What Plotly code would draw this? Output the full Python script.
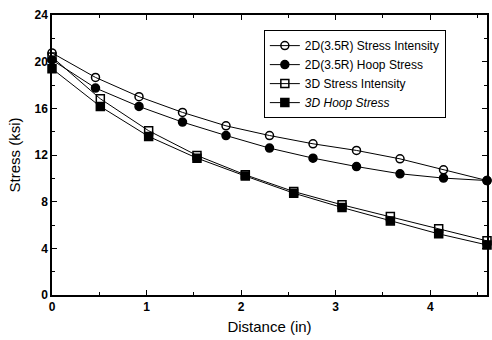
import plotly.graph_objects as go

x_circ = [0, 0.46, 0.92, 1.38, 1.84, 2.30, 2.76, 3.22, 3.68, 4.14, 4.6]
si_2d = [20.75, 18.65, 17.0, 15.65, 14.5, 13.67, 12.96, 12.39, 11.67, 10.73, 9.81]
hoop_2d = [20.15, 17.74, 16.16, 14.82, 13.67, 12.59, 11.73, 11.01, 10.39, 10.02, 9.81]

x_sq = [0, 0.511, 1.022, 1.533, 2.044, 2.556, 3.067, 3.578, 4.089, 4.6]
si_3d = [20.4, 16.82, 14.08, 11.96, 10.3, 8.87, 7.73, 6.72, 5.67, 4.64]
hoop_3d = [19.4, 16.16, 13.59, 11.73, 10.2, 8.73, 7.5, 6.35, 5.24, 4.29]

names = ["2D(3.5R) Stress Intensity", "2D(3.5R) Hoop Stress",
         "3D Stress Intensity", "<i>3D Hoop Stress</i>"]

FONT = "Liberation Sans, Arial"

fig = go.Figure()
specs = [
    (x_circ, si_2d, "circle-open", names[0]),
    (x_circ, hoop_2d, "circle", names[1]),
    (x_sq, si_3d, "square-open", names[2]),
    (x_sq, hoop_3d, "square", names[3]),
]
for xs, ys, sym, nm in specs:
    fig.add_trace(go.Scatter(
        x=xs, y=ys, mode="lines+markers", name=nm, cliponaxis=False,
        line=dict(color="black", width=1),
        marker=dict(symbol=sym, size=8, color="black",
                    line=dict(color="black", width=1.5)),
    ))

axis_common = dict(
    showline=True, linecolor="black", linewidth=1.5, mirror="allticks",
    ticks="inside", ticklen=5, tickcolor="black", tickwidth=1,
    showgrid=False, zeroline=False,
    tickfont=dict(family=FONT, size=12, color="black", weight="bold"),
)

fig.update_xaxes(range=[0, 4.6], dtick=1, tick0=0,
                 minor=dict(ticks="inside", ticklen=3, dtick=0.5, tickcolor="black"),
                 title=dict(text="Distance (in)", standoff=8,
                            font=dict(family=FONT, size=15, color="black")),
                 **axis_common)
fig.update_yaxes(range=[0, 24], dtick=4, tick0=0,
                 minor=dict(ticks="inside", ticklen=3, dtick=2, tickcolor="black"),
                 title=dict(text="Stress (ksi)", standoff=10,
                            font=dict(family=FONT, size=15, color="black")),
                 **axis_common)

fig.update_layout(
    width=492, height=340,
    margin=dict(l=52, r=3, t=15, b=45),
    paper_bgcolor="white", plot_bgcolor="white",
    legend=dict(x=0.487, y=0.946, xanchor="left", yanchor="top",
                bordercolor="black", borderwidth=1, bgcolor="white",
                font=dict(family=FONT, size=12, color="black"),
                tracegroupgap=0, itemwidth=30),
    showlegend=True,
)

fig.write_html("out.html", config={"displayModeBar": False},
               post_script="document.body.style.margin='0';document.body.style.overflow='hidden';")
